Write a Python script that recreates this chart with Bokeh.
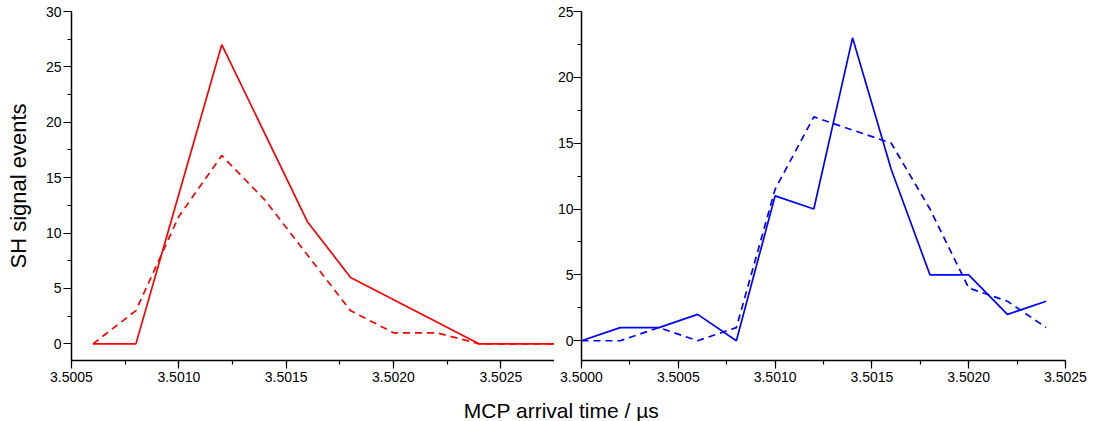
from bokeh.plotting import figure
from bokeh.layouts import column, row
from bokeh.models import Range1d, SingleIntervalTicker, PrintfTickFormatter, Label
from bokeh.embed import file_html
from bokeh.resources import INLINE

# ---- data ----
red_solid_t = [3.5006, 3.5008, 3.5012, 3.5016, 3.5018, 3.5024, 3.5028]
red_solid_y = [0, 0, 27, 11, 6, 0, 0]
red_dash_t = [3.5006, 3.5008, 3.5010, 3.5012, 3.5014, 3.5016, 3.5018, 3.5020, 3.5022, 3.5024, 3.5026, 3.5028]
red_dash_y = [0, 3, 11.5, 17, 13, 8, 3, 1, 1, 0, 0, 0]

blue_t = [3.5000, 3.5002, 3.5004, 3.5006, 3.5008, 3.5010, 3.5012, 3.5014, 3.5016, 3.5018, 3.5020, 3.5022, 3.5024]
blue_solid_y = [0, 1, 1, 2, 0, 11, 10, 23, 13, 5, 5, 2, 3]
blue_dash_y = [0, 0, 1, 0, 1, 11.5, 17, 16, 15, 10, 4, 3, 1]

x_label = "MCP arrival time / \u00b5s"
y_label = "SH signal events"

FONT = "Liberation Sans"


def style(p, xint, yint):
    p.xaxis.ticker = SingleIntervalTicker(interval=xint, num_minor_ticks=2)
    p.yaxis.ticker = SingleIntervalTicker(interval=yint, num_minor_ticks=2)
    p.xaxis.formatter = PrintfTickFormatter(format="%.4f")
    p.yaxis.formatter = PrintfTickFormatter(format="%d")
    for ax in (p.xaxis, p.yaxis):
        ax.major_tick_out = 8
        ax.major_tick_in = 0
        ax.minor_tick_out = 4
        ax.minor_tick_in = 0
        ax.axis_line_width = 1.5
        ax.major_tick_line_width = 1.2
        ax.minor_tick_line_width = 1.2
        ax.axis_line_color = "black"
        ax.major_label_text_font = FONT
        ax.major_label_text_font_size = "14px"
        ax.major_label_text_color = "black"
        ax.axis_label_text_font = FONT
        ax.axis_label_text_font_size = "22px"
        ax.axis_label_text_font_style = "normal"
        ax.axis_label_text_color = "black"
    p.xaxis.major_label_standoff = 3
    p.yaxis.major_label_standoff = 2
    p.xgrid.visible = False
    p.ygrid.visible = False
    p.outline_line_color = None
    p.background_fill_color = "white"
    p.border_fill_color = "white"


p1 = figure(width=554, height=388, output_backend="svg", toolbar_location=None,
            x_range=Range1d(3.5005, 3.50275), y_range=Range1d(-1.5, 30),
            min_border_left=71, min_border_right=0, min_border_top=11, min_border_bottom=28)
style(p1, 0.0005, 5)
p1.yaxis.axis_label = y_label
p1.yaxis.axis_label_standoff = 12
p1.line(red_solid_t, red_solid_y, line_color="#ff0000", line_width=1.7)
p1.line(red_dash_t, red_dash_y, line_color="#ff0000", line_width=1.7, line_dash="7 5")

p2 = figure(width=536, height=388, output_backend="svg", toolbar_location=None,
            x_range=Range1d(3.5000, 3.5025), y_range=Range1d(-1.5, 25),
            min_border_left=27, min_border_right=25, min_border_top=11, min_border_bottom=28)
style(p2, 0.0005, 5)
p2.yaxis.major_label_standoff = 0
p2.line(blue_t, blue_solid_y, line_color="#0000ff", line_width=1.7)
p2.line(blue_t, blue_dash_y, line_color="#0000ff", line_width=1.7, line_dash="7 5")

p3 = figure(width=1090, height=33, output_backend="svg", toolbar_location=None,
            x_range=Range1d(0, 1090), y_range=Range1d(0, 33),
            x_axis_type=None, y_axis_type=None, min_border=0)
p3.outline_line_color = None
p3.xgrid.visible = False
p3.ygrid.visible = False
p3.add_layout(Label(x=561, y=11, text=x_label,
                    text_font=FONT, text_font_size="21px", text_align="center",
                    text_baseline="alphabetic", text_color="black"))

layout = column(row(p1, p2, spacing=0), p3, spacing=0)
open("out.html", "w").write(file_html(layout, INLINE))
